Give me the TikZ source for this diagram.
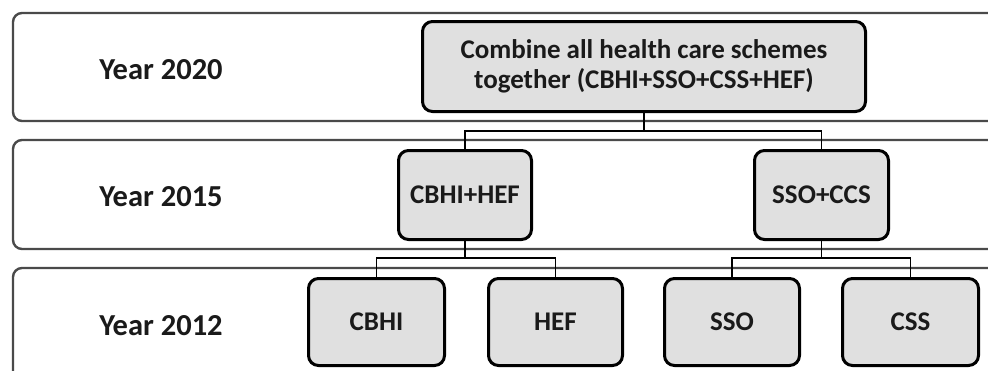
\documentclass[tikz,border=0pt]{standalone}
\usepackage{fontspec}
\setmainfont{Carlito}
\definecolor{boxfill}{HTML}{E0E0E0}
\definecolor{bandline}{HTML}{4A4A4A}
\definecolor{textdark}{HTML}{1A1A1A}
\tikzset{
  band/.style={draw=bandline, line width=2.4pt, rounded corners=9pt},
  scheme/.style={draw=black, line width=3pt, fill=boxfill, rounded corners=10pt,
    inner sep=0pt, align=center, text=textdark,
    font=\bfseries\fontsize{27}{30}\selectfont},
  year/.style={text=textdark, font=\bfseries\fontsize{30.5}{34}\selectfont},
  link/.style={draw=black, line width=1.6pt},
}
\begin{document}
\begin{tikzpicture}[x=1pt,y=-1pt]
  \useasboundingbox (0,0) rectangle (988,370);
  \clip (0,0) rectangle (988,370);

  % the three year bands (open to the right and bottom)
  \draw[band] (13,13) rectangle (1010,121);
  \draw[band] (13,140) rectangle (1010,249);
  \draw[band] (13,268) rectangle (1010,420);

  % year labels
  \node[year] (y2020) at (161,70) {Year 2020};
  \node[year] (y2015) at (161,197) {Year 2015};
  \node[year] (y2012) at (161,326) {Year 2012};

  % scheme boxes
  \node[scheme, minimum width=443pt, minimum height=90pt] (all) at (644,66.5)
    {Combine all health care schemes\\together (CBHI+SSO+CSS+HEF)};
  \node[scheme, minimum width=133pt, minimum height=89pt] (cbhihef) at (465,195) {CBHI+HEF};
  \node[scheme, minimum width=134pt, minimum height=89pt] (ssoccs) at (821.5,195) {SSO+CCS};
  \node[scheme, minimum width=136pt, minimum height=87pt] (cbhi) at (376.5,322) {CBHI};
  \node[scheme, minimum width=134pt, minimum height=87pt] (hef) at (555.5,322) {HEF};
  \node[scheme, minimum width=135pt, minimum height=87pt] (sso) at (732,322) {SSO};
  \node[scheme, minimum width=136pt, minimum height=87pt] (css) at (910.5,322) {CSS};

  % bus levels of the tree
  \coordinate (lvl1) at (0,131);
  \coordinate (lvl2) at (0,258);
  \coordinate (busA) at (all.south |- lvl1);
  \coordinate (busB) at (cbhihef.south |- lvl2);
  \coordinate (busC) at (ssoccs.south |- lvl2);

  \begin{scope}[on background layer/.try]
    \draw[link] (all.south) -- (busA);
    \draw[link] (busA) -| (cbhihef.north);
    \draw[link] (busA) -| (ssoccs.north);
    \draw[link] (cbhihef.south) -- (busB);
    \draw[link] (busB) -| (cbhi.north);
    \draw[link] (busB) -| (hef.north);
    \draw[link] (ssoccs.south) -- (busC);
    \draw[link] (busC) -| (sso.north);
    \draw[link] (busC) -| (css.north);
  \end{scope}
\end{tikzpicture}
\end{document}
